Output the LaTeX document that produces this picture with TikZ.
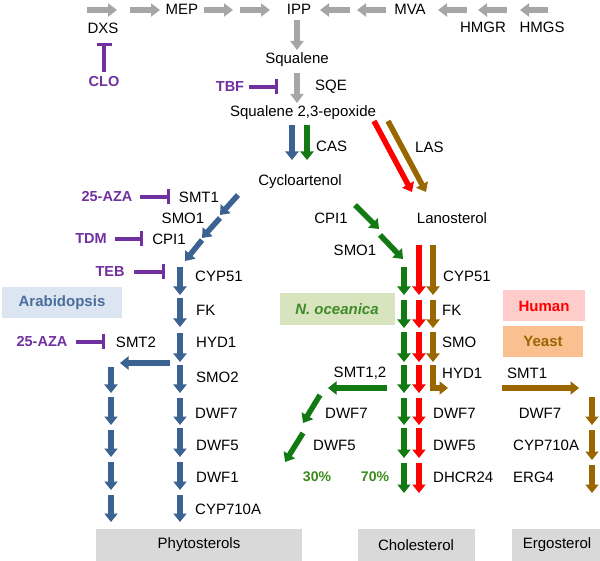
\documentclass[tikz,border=0pt]{standalone}
\usepackage{fontspec}
\setmainfont{Liberation Sans}
\usetikzlibrary{arrows.meta}
\definecolor{cgrey}{HTML}{A6A6A6}
\definecolor{cblue}{HTML}{3B6291}
\definecolor{cgreen}{HTML}{137A13}
\definecolor{cred}{HTML}{FF0000}
\definecolor{cbrown}{HTML}{996600}
\definecolor{cpurple}{HTML}{7030A0}
\definecolor{boxgrey}{HTML}{D9D9D9}
\definecolor{arabfill}{HTML}{DCE6F2}
\definecolor{arabtext}{HTML}{4A6D9C}
\definecolor{oceafill}{HTML}{D7E4BD}
\definecolor{oceatext}{HTML}{3F8A2A}
\definecolor{humfill}{HTML}{FFCCCC}
\definecolor{yeafill}{HTML}{FAC090}
\definecolor{pcttext}{HTML}{3A8A1A}
\tikzset{
  lbl/.style={font=\fontsize{15}{17}\selectfont, inner sep=0pt},
  lblw/.style={lbl, anchor=west},
  drug/.style={lbl, font=\fontsize{14.5}{17}\selectfont\bfseries, text=cpurple},
  blockarr/.style={line width=5.5pt, -{Triangle[width=13pt,length=8.5pt]}},
  greyarr/.style={line width=6pt, cgrey, -{Triangle[width=13pt,length=9pt]}},
  bluearr/.style={blockarr, cblue},
  greenarr/.style={blockarr, cgreen},
  redarr/.style={blockarr, cred},
  brownarr/.style={blockarr, cbrown},
  inhib/.style={line width=3.5pt, cpurple, -{Bar[width=15pt]}},
}
\begin{document}
\begin{tikzpicture}[x=1pt,y=-1pt]
\useasboundingbox (0,0) rectangle (600,561);
% ---------- top grey pathway ----------
\draw[greyarr] (87,10) -- (117,10);
\draw[greyarr] (130,10) -- (160,10);
\node[lbl] (mep) at (182,9) {MEP};
\draw[greyarr] (204,10) -- (233,10);
\draw[greyarr] (240,10) -- (270,10);
\node[lbl] (ipp) at (299,9) {IPP};
\draw[greyarr] (350,10) -- (320,10);
\draw[greyarr] (386,10) -- (357,10);
\node[lbl] (mva) at (410,9) {MVA};
\draw[greyarr] (467,10) -- (438,10);
\draw[greyarr] (507,10) -- (478,10);
\draw[greyarr] (548,10) -- (520,10);
\node[lbl] (dxs) at (103,28) {DXS};
\node[lbl] (hmgr) at (483,27) {HMGR};
\node[lbl] (hmgs) at (542,27) {HMGS};
\node[drug] (clo) at (104,82) {CLO};
\draw[inhib] (104,72) -- (104,43);
\draw[greyarr] (297,20) -- (297,50);
\node[lbl] (squalene) at (297,60) {Squalene};
\draw[greyarr] (297,73) -- (297,103);
\node[lblw] (sqe) at (315,87) {SQE};
\node[drug] (tbf) at (230,87) {TBF};
\draw[inhib] (249,87) -- (278,87);
\node[lbl] (epox) at (303,113) {Squalene 2,3-epoxide};
% ---------- cyclisation ----------
\draw[bluearr] (292,125) -- (292,160);
\draw[greenarr] (307,125) -- (307,160);
\node[lblw] (cas) at (316,146) {CAS};
\draw[redarr] (374,121) -- (412,192);
\draw[brownarr] (388,121) -- (426,192);
\node[lblw] (las) at (415,147) {LAS};
\node[lbl] (cyclo) at (300,182) {Cycloartenol};
\node[lbl] (lano) at (452,218) {Lanosterol};
% ---------- green upper diagonal ----------
\node[lbl] (gcpi1) at (331,218) {CPI1};
\node[lbl] (gsmo1) at (355,250) {SMO1};
\draw[greenarr] (355,205) -- (379,229);
\draw[greenarr] (380,235) -- (403,259);
% ---------- blue upper diagonal ----------
\draw[bluearr] (238,195) -- (220,215);
\draw[bluearr] (220,218) -- (202,238);
\draw[bluearr] (202,240) -- (185,261);
\node[drug] (aza1) at (107,197) {25-AZA};
\draw[inhib] (140,197) -- (170,197);
\node[lbl] (smt1) at (199,197) {SMT1};
\node[lbl] (bsmo1) at (183,218) {SMO1};
\node[drug] (tdm) at (91,239) {TDM};
\draw[inhib] (115,239) -- (143,239);
\node[lbl] (bcpi1) at (169,239) {CPI1};
\node[drug] (teb) at (110,272) {TEB};
\draw[inhib] (134,272) -- (165,272);
% ---------- blue main column ----------
\foreach \a/\b in {267/295,298/327,333/362,365/393,398/425,428/457,462/490,495/522}
  \draw[bluearr] (180,\a) -- (180,\b);
\node[lblw] (bcyp51) at (195,276) {CYP51};
\node[lblw] (bfk) at (196,310) {FK};
\node[lblw] (bhyd1) at (196,342) {HYD1};
\node[lblw] (bsmo2) at (196,377) {SMO2};
\node[lblw] (bdwf7) at (195,413) {DWF7};
\node[lblw] (bdwf5) at (196,445) {DWF5};
\node[lblw] (bdwf1) at (196,477) {DWF1};
\node[lblw] (bcyp710) at (195,509) {CYP710A};
% ---------- blue left branch ----------
\draw[bluearr] (170,363) -- (120,363);
\foreach \a/\b in {367/393,397/425,430/457,462/490,495/522}
  \draw[bluearr] (111,\a) -- (111,\b);
\node[lbl] (smt2) at (136,342) {SMT2};
\node[drug] (aza2) at (42,342) {25-AZA};
\draw[inhib] (76,342) -- (105,342);
% ---------- green / red / brown column ----------
\draw[greenarr] (404,267) -- (404,295);
\draw[redarr] (419,245) -- (419,295);
\draw[brownarr] (433,245) -- (433,295);
\foreach \a/\b in {300/328,332/362}{
  \draw[greenarr] (404,\a) -- (404,\b);
  \draw[redarr] (419,\a) -- (419,\b);
  \draw[brownarr] (433,\a) -- (433,\b);
}
\foreach \a/\b in {365/393,398/425,428/458,463/493}{
  \draw[greenarr] (404,\a) -- (404,\b);
  \draw[redarr] (419,\a) -- (419,\b);
}
\draw[brownarr] (433,365) |- (448,388);
\node[lblw] (rcyp51) at (443,276) {CYP51};
\node[lblw] (rfk) at (442,310) {FK};
\node[lblw] (rsmo) at (442,342) {SMO};
\node[lblw] (rhyd1) at (442,373) {HYD1};
\node[lblw] (rdwf7) at (433,413) {DWF7};
\node[lblw] (rdwf5) at (433,445) {DWF5};
\node[lblw] (dhcr) at (433,477) {DHCR24};
% ---------- yeast branch ----------
\node[lblw] (ysmt1) at (507,373) {SMT1};
\draw[brownarr] (502,388) -- (579,388);
\foreach \a/\b in {397/425,430/460,465/493}
  \draw[brownarr] (592,\a) -- (592,\b);
\node[lbl] (ydwf7) at (540,413) {DWF7};
\node[lblw] (ycyp710) at (513,445) {CYP710A};
\node[lblw] (erg4) at (513,477) {ERG4};
% ---------- green branch ----------
\node[lbl] (gsmt12) at (360,373) {SMT1,2};
\draw[greenarr] (387,388) -- (328,388);
\draw[greenarr] (320,395) -- (303,423);
\draw[greenarr] (303,433) -- (285,462);
\node[lblw] (gdwf7) at (325,413) {DWF7};
\node[lblw] (gdwf5) at (313,445) {DWF5};
\node[lbl, font=\fontsize{14}{16}\selectfont\bfseries, text=pcttext] (p30) at (317,477) {30\%};
\node[lbl, font=\fontsize{14}{16}\selectfont\bfseries, text=pcttext] (p70) at (375,477) {70\%};
% ---------- organism tags ----------
\fill[arabfill] (2,287) rectangle (122,318);
\node[lbl, font=\fontsize{15}{17}\selectfont\bfseries, text=arabtext] (arab) at (62,303) {Arabidopsis};
\fill[oceafill] (280,293) rectangle (395,325);
\node[lbl, font=\fontsize{15}{17}\selectfont\bfseries\itshape, text=oceatext] (ocea) at (337,309) {N. oceanica};
\fill[humfill] (503,290) rectangle (585,321);
\node[lbl, font=\fontsize{15}{17}\selectfont\bfseries, text=cred] (human) at (544,306) {Human};
\fill[yeafill] (503,326) rectangle (583,357);
\node[lbl, font=\fontsize{15}{17}\selectfont\bfseries, text=cbrown] (yeast) at (543,341) {Yeast};
% ---------- end products ----------
\fill[boxgrey] (96,529) rectangle (302,561);
\node[lbl] (phyto) at (199,545) {Phytosterols};
\fill[boxgrey] (358,529) rectangle (475,561);
\node[lbl] (chol) at (416,545) {Cholesterol};
\fill[boxgrey] (512,529) rectangle (600,561);
\node[lbl] (ergo) at (557,545) {Ergosterol};
\end{tikzpicture}
\end{document}
